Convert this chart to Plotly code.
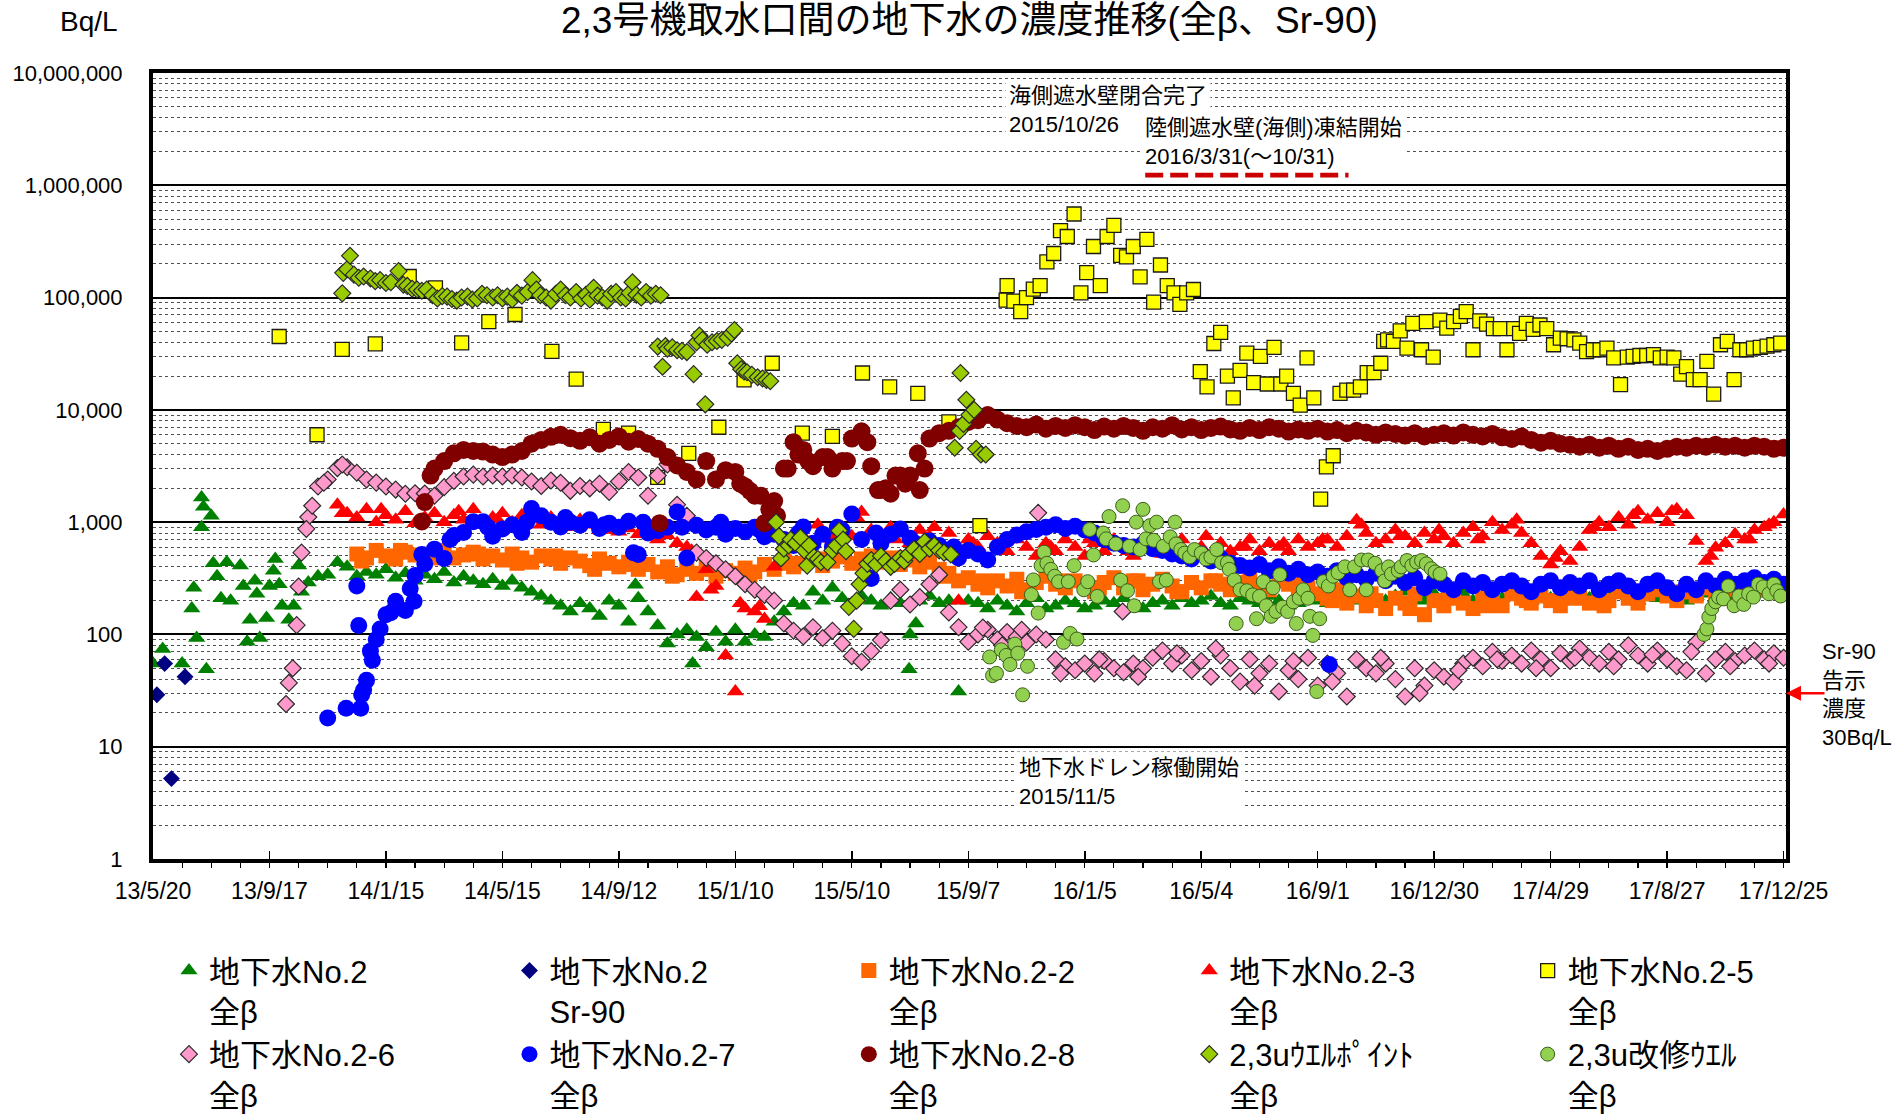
import pandas as pd
import plotly.graph_objects as go

# ---------------------------------------------------------------- texts / ticks
DAY0 = "2013-05-20"          # day 0 of all "elapsed day" arrays below
title_text = "2,3号機取水口間の地下水の濃度推移(全β、Sr-90)"
unit_text = "Bq/L"
tick_dates = ["2013-05-20", "2013-09-17", "2014-01-15", "2014-05-15", "2014-09-12",
              "2015-01-10", "2015-05-10", "2015-09-07", "2016-01-05", "2016-05-04",
              "2016-09-01", "2016-12-30", "2017-04-29", "2017-08-27", "2017-12-25"]
tick_labels = ["13/5/20", "13/9/17", "14/1/15", "14/5/15", "14/9/12", "15/1/10", "15/5/10",
               "15/9/7", "16/1/5", "16/5/4", "16/9/1", "16/12/30", "17/4/29", "17/8/27", "17/12/25"]
ytick_vals = [1, 10, 100, 1000, 10000, 100000, 1000000, 10000000]
ytick_labels = ["1", "10", "100", "1,000", "10,000", "100,000", "1,000,000", "10,000,000"]

series_names = ["地下水No.2<br>全β", "地下水No.2<br>Sr-90", "地下水No.2-2<br>全β",
                "地下水No.2-3<br>全β", "地下水No.2-5<br>全β", "地下水No.2-6<br>全β",
                "地下水No.2-7<br>全β", "地下水No.2-8<br>全β", "2,3uｳｴﾙﾎﾟｲﾝﾄ<br>全β",
                "2,3u改修ｳｴﾙ<br>全β"]

# ---------------------------------------------------------------- sampling days (elapsed days from DAY0)
sample_day = [
    0, 10, 20, 30, 40, 50, 60, 70, 80, 90, 100, 110,
    120, 130, 140, 150, 160, 170, 180, 190, 200, 210, 220, 230,
    240, 250, 260, 270, 280, 290, 300, 310, 320, 330, 340, 350,
    360, 370, 380, 390, 400, 410, 420, 430, 440, 450, 460, 470,
    480, 490, 500, 510, 520, 530, 540, 550, 560, 570, 580, 590,
    600, 610, 620, 630, 640, 650, 660, 670, 680, 690, 700, 710,
    720, 730, 740, 750, 760, 770, 780, 790, 800, 810, 820, 830,
    840, 850, 860, 870, 880, 890, 900, 910, 920, 930, 940, 950,
    960, 970, 980, 990, 1000, 1010, 1020, 1030, 1040, 1050, 1060, 1070,
    1080, 1090, 1100, 1110, 1120, 1130, 1140, 1150, 1160, 1170, 1180, 1190,
    1200, 1210, 1220, 1230, 1240, 1250, 1260, 1270, 1280, 1290, 1300, 1310,
    1320, 1330, 1340, 1350, 1360, 1370, 1380, 1390, 1400, 1410, 1420, 1430,
    1440, 1450, 1460, 1470, 1480, 1490, 1500, 1510, 1520, 1530, 1540, 1550,
    1560, 1570, 1580, 1590, 1600, 1610, 1620, 1630, 1640, 1650, 1660, 1670,
    1680]

# ---------------------------------------------------------------- 地下水No.2 全β
no2_beta = [
    55, 74, None, 55, 170, 1660, 1140, 210, 200, 410, 135, 93,
    270, 280, 135, 410, 290, 330, 340, 440, 400, 330, 360, 340,
    380, 320, 350, 300, 340, 310, 360, 290, 330, 300, 280, 310,
    270, 300, 260, 240, 220, 200, 180, 160, 190, 170, 146, 200,
    180, 130, 210, 160, 120, 83, 100, 110, 95, 77, 105, 86,
    110, 86, 100, 95, 130, 160, 190, 180, 240, 200, 260, 210,
    190, 220, 200, 180, 210, 190, 100, 200, 220, 190, 200, 31,
    200, 190, 170, 200, 180, 160, 190, 210, 170, 180, 200, 190,
    170, 180, 200, 190, 210, 180, 170, 190, 200, 180, 210, 190,
    200, 220, 190, 180, 210, 200, 190, 220, 200, 180, 190, 210,
    200, 190, 220, 210, 200, 230, 210, 200, 220, 240, 210, 200,
    230, 220, 210, 230, 200, 220, 240, 210, 230, 220, 200, 230,
    210, 220, 240, 230, 210, 220, 240, 230, 220, 200, 220, 210,
    230, 220, 200, 220, 230, 210, 240, 220, 230, 250, 230, 240,
    220]
no2_beta_xday = [42, 45, 50, 52, 55, 62, 66, 76, 93, 97, 105, 107, 117, 124, 126, 133,
                 145, 153, 497, 556, 779, 786]
no2_beta_xval = [260, 93, 900, 1370, 49, 430, 330, 440, 270, 86, 300, 230, 140, 370, 470, 180,
                 180, 240, 277, 55, 49, 125]

# ---------------------------------------------------------------- 地下水No.2 Sr-90
no2_sr_day = [4, 12, 19, 33]
no2_sr_val = [29, 55, 5.2, 42]

# ---------------------------------------------------------------- 地下水No.2-2 全β
no2_2_beta = [None] * 21 + [
    520, 480, 560,
    500, 470, 540, 510, 450, 520, 560, 480, 510, 540, 470, 500,
    460, 520, 480, 440, 500, 470, 430, 480, 450, 410, 470, 430,
    400, 440, 380, 420, 360, 400, 340, 380, 350, 400, 330, 370,
    350, 390, 360, 420, 380, 450, 400, 430, 470, 410, 450, 490,
    430, 470, 500, 440, 480, 420, 460, 400, 440, 380, 350, 300,
    320, 280, 260, 300, 270, 310, 250, 290, 330, 280, 260, 300,
    270, 240, 290, 320, 260, 300, 250, 280, 310, 270, 240, 290,
    260, 300, 280, 250, 290, 330, 270, 250, 300, 280, 240, 260,
    230, 210, 250, 190, 220, 180, 200, 170, 210, 190, 230, 150,
    200, 180, 220, 190, 170, 210, 200, 180, 230, 210, 190, 220,
    200, 180, 230, 210, 190, 220, 200, 240, 210, 190, 230, 250,
    220, 200, 240, 220, 260, 230, 250, 270, 240, 260, 250, 270,
    260]
no2_2_xday = [215, 255, 295, 335, 375, 415, 455, 495, 535, 575, 615, 655, 695, 735, 775, 815,
              855, 895, 935, 975, 1015, 1055, 1095, 1135, 1175, 1215, 1255, 1295, 1335, 1375,
              1415, 1455, 1495, 1535, 1575, 1615, 1655]
no2_2_xval = [450, 560, 480, 520, 430, 500, 380, 420, 330, 380, 340, 430, 470, 450, 480, 330,
              300, 240, 300, 260, 300, 240, 300, 260, 290, 200, 230, 170, 210, 180,
              200, 210, 180, 230, 240, 210, 280]

# ---------------------------------------------------------------- 地下水No.2-3 全β
no2_3_beta = [None] * 19 + [
    1430, 1200, 1100, 1300, 1000,
    1150, 1050, 1250, 980, 1100, 1200, 1000, 1150, 1050, 1300, 950, 1100,
    1200, 1000, 1150, 1050, 950, 1100, 1000, 900, 1050, 950, 850, 900,
    820, 880, 780, 850, 700, 760, 650, 600, 215, 380, 270, 65,
    31, 170, 160, 137, 400, 600, 700, 750, 650, 800, 700, 900,
    750, 1230, 850, 700, 900, 800, 650, 850, 750, 600, 800, 200,
    700, 600, 750, 650, 550, 700, 600, 500, 650, 550, 700, 600,
    500, 650, 550, 700, 600, 500, 580, 650, 520, 600, 700, 550,
    600, 500, 650, 550, 600, 700, 550, 650, 600, 550, 700, 600,
    650, 700, 600, 750, 1040, 800, 650, 700, 850, 750, 650, 800,
    700, 750, 650, 800, 900, 750, 1000, 850, 950, 800, 650, 500,
    420, 550, 450, 600, 850, 1000, 900, 1100, 950, 1250, 1050, 1200,
    1000, 1300, 1150, 680, 450, 590, 650, 780, 700, 850, 900, 1000,
    1170]
no2_3_xday = [195, 235, 275, 315, 355, 395, 435, 475, 515, 555, 575, 605, 625, 685, 725, 765,
              805, 845, 885, 925, 965, 1005, 1045, 1085, 1125, 1165, 1205, 1245, 1285, 1325,
              1365, 1405, 1445, 1485, 1525, 1565, 1605, 1645, 1665]
no2_3_xval = [1200, 1300, 1000, 1250, 1050, 1200, 950, 850, 800, 555, 250, 190, 178, 950, 1100, 700,
              900, 650, 750, 600, 700, 550, 650, 750, 600, 650, 700, 950, 750, 850,
              700, 1050, 480, 900, 1150, 1250, 500, 700, 950]

# ---------------------------------------------------------------- 地下水No.2-5 全β
no2_5_day = [
    130, 169, 195, 229, 264, 291, 318, 346, 373, 411,
    436, 464, 490, 520, 552, 583, 609, 638, 669, 700,
    731, 759, 788, 820, 852, 879, 880, 887, 894, 900,
    907, 914, 921, 928, 935, 942, 949, 956, 962, 969,
    976, 983, 990, 997, 1003, 1010, 1017, 1024, 1031, 1038,
    1045, 1052, 1058, 1065, 1072, 1079, 1086, 1093, 1100, 1107,
    1113, 1120, 1127, 1134, 1141, 1148, 1155, 1162, 1168, 1175,
    1182, 1189, 1196, 1203, 1209, 1216, 1223, 1230, 1237, 1244,
    1251, 1258, 1265, 1268, 1272, 1278, 1285, 1292, 1298, 1307,
    1312, 1319, 1326, 1333, 1340, 1347, 1353, 1360, 1367, 1374,
    1381, 1388, 1395, 1402, 1408, 1415, 1422, 1429, 1436, 1443,
    1450, 1457, 1464, 1470, 1477, 1484, 1491, 1498, 1505, 1512,
    1519, 1525, 1532, 1539, 1546, 1553, 1560, 1567, 1574, 1580,
    1587, 1594, 1601, 1608, 1615, 1622, 1629, 1635, 1642, 1649,
    1656, 1663, 1670, 1677]
no2_5_val = [
    45000, 6000, 34500, 38700, 154000, 122000, 39500, 61000, 70700, 33200,
    18800, 6700, 6200, 2500, 4100, 7000, 18500, 26000, 6200, 5800,
    21300, 16000, 14000, 7800, 930, 95000, 128000, 93000, 75000, 100000,
    119000, 128000, 208000, 247000, 395000, 350000, 555000, 110000, 167000, 285000,
    128000, 350000, 440000, 238000, 230000, 285000, 153000, 330000, 91000, 195000,
    128000, 110000, 87000, 110000, 118000, 21900, 16000, 39000, 49000, 20000,
    12800, 22500, 32000, 17500, 30000, 17000, 36000, 17000, 20000, 14000,
    11000, 29000, 12800, 1600, 3100, 3900, 14000, 15000, 15000, 16000,
    21500, 21500, 26000, 40800, 42000, 40800, 50500, 35500, 59000, 34300,
    61000, 29500, 63000, 53400, 61000, 68000, 75000, 34300, 62000, 58000,
    53000, 53000, 34300, 53000, 48000, 59000, 52000, 57000, 53000, 38000,
    43500, 43000, 42000, 39300, 33000, 34300, 34300, 35500, 29000, 16800,
    29500, 30000, 30500, 30500, 31000, 29000, 29500, 29000, 20800, 24300,
    18600, 18600, 27000, 13800, 38000, 40800, 18600, 34300, 34300, 35500,
    36000, 37000, 38000, 39300]

# ---------------------------------------------------------------- 地下水No.2-6 全β
no2_6_beta = [None] * 14 + [
    37, 267, 1110, 2080, 2400, 3030, 3080, 2750, 2400, 2250,
    2080, 1950, 1790, 1810, 1800, 1720, 2050, 2330, 2550, 2650, 2550, 2600,
    2550, 2600, 2500, 2300, 2100, 2350, 2240, 1900, 2100, 2000, 2200, 1860,
    2300, 2800, 2500, 1720, 2600, 3270, 1430, 1140, 535, 480, 430, 380,
    330, 280, 250, 225, 200, 125, 108, 96, 116, 93, 108, 83,
    64, 57, 71, 89, 200, 250, 185, 215, 280, 340, 157, 116,
    86, 100, 110, 90, 105, 95, 85, 100, 90, 60, 52, 48,
    55, 45, 58, 50, 46, 55, 50, 62, 72, 55, 65, 48,
    58, 42, 65, 50, 38, 60, 45, 55, 31, 48, 40, 62,
    35, 55, 45, 28, 60, 50, 45, 55, 40, 28, 50, 35,
    48, 42, 38, 55, 62, 52, 70, 58, 65, 55, 72, 60,
    50, 68, 58, 75, 62, 55, 70, 60, 80, 65, 55, 72,
    60, 52, 48, 85, 45, 60, 70, 58, 65, 72, 60, 68,
    62]
no2_6_xday = [137, 144, 148, 153, 158, 164, 176, 195, 855, 875, 895, 912, 935, 975, 999, 1015,
              1055, 1095, 1135, 1175, 1215, 1265, 1305, 1345, 1385, 1425, 1465, 1505, 1545,
              1585, 1625, 1665]
no2_6_xval = [24, 50, 121, 535, 870, 1400, 2240, 3260, 115, 80, 110, 1210, 45, 60, 160, 42,
              68, 75, 35, 58, 38, 62, 30, 48, 60, 50, 62, 52, 66,
              70, 52, 55]

# ---------------------------------------------------------------- 地下水No.2-7 全β
no2_7_beta = [None] * 18 + [
    18, None, None, 270, 39, 90,
    150, 197, 163, 335, 425, 575, 475, 760, 810, 1010, 1010, 750,
    870, 950, 810, 1320, 1140, 1000, 905, 1000, 940, 1050, 880, 980,
    900, 1020, 515, 800, 840, 900, 1230, 480, 940, 850, 900, 780,
    880, 820, 900, 740, 780, 700, 620, 905, 650, 780, 600, 850,
    1180, 700, 315, 650, 780, 870, 720, 600, 680, 620, 540, 480,
    560, 520, 460, 600, 700, 770, 820, 860, 900, 950, 880, 920,
    850, 800, 700, 650, 620, 600, 640, 580, 560, 520, 500, 470,
    520, 450, 480, 430, 410, 390, 420, 370, 400, 350, 380, 340,
    360, 330, 370, 320, 340, 310, 350, 300, 330, 290, 320, 260,
    300, 280, 250, 300, 270, 290, 250, 280, 300, 270, 240, 280,
    300, 260, 290, 270, 300, 250, 280, 300, 270, 240, 280, 300,
    260, 230, 280, 250, 300, 270, 310, 280, 300, 320, 290, 310,
    280]
no2_7_xday = [199, 212, 214, 215, 217, 224, 226, 234, 245, 265, 269, 277, 306, 345, 385, 425,
              465, 495, 505, 545, 585, 625, 665, 705, 745, 785, 825, 1212]
no2_7_xval = [22, 120, 22, 29, 32, 71, 59, 112, 156, 257, 197, 515, 700, 900, 1000, 1100,
              950, 535, 1000, 900, 1000, 850, 800, 900, 800, 650, 600, 54]

# ---------------------------------------------------------------- 地下水No.2-8 全β
no2_8_beta = [None] * 28 + [
    1510, 3000, 3500, 4100, 4400, 4300, 4250, 4000,
    3800, 4000, 4300, 5000, 5400, 5750, 6000, 5600, 5300, 5700, 5000, 5400,
    5800, 5200, 5500, 5000, 4500, 3800, 3200, 2800, 2400, 3500, 2400, 2900,
    2800, 2080, 1720, 980, 1540, 3000, 5150, 4400, 3150, 3800, 3000, 3500,
    5550, 6450, 3150, 1930, 1790, 2600, 2600, 1930, 5550, 6200, 6500, 7000,
    7800, 8100, 9000, 8200, 7600, 7200, 7000, 7400, 6800, 7200, 6900, 7300,
    7000, 6600, 7100, 6800, 7200, 6900, 6500, 7000, 6800, 7300, 6700, 7000,
    6600, 6900, 7100, 6700, 6500, 6900, 6600, 7000, 6800, 6400, 6700, 6500,
    6800, 6400, 6600, 6200, 6500, 6300, 6000, 6300, 6100, 5900, 6200, 5800,
    6000, 6200, 5900, 6300, 6000, 5800, 6100, 5700, 5500, 5800, 5400, 5100,
    5300, 5000, 4900, 4700, 4900, 4600, 4800, 4500, 4700, 4400, 4500, 4300,
    4500, 4700, 4600, 4800, 4700, 4900, 4700, 4800, 4600, 4800, 4700, 4500,
    4600]
no2_8_xday = [277, 286, 522, 605, 615, 626, 635, 643, 654, 665, 675, 695, 715, 736, 747, 755,
              765, 775, 788, 795]
no2_8_xval = [1015, 2600, 980, 2200, 1900, 1720, 1300, 1140, 3000, 4000, 3500, 3800, 3500, 5150,
              1930, 2000, 2600, 2200, 4100, 3000]

# ---------------------------------------------------------------- 2,3uウエルポイント 全β
wellpoint_day = [
    195, 196, 200, 203, 207, 212, 217, 224, 229, 234,
    240, 245, 253, 258, 262, 267, 272, 277, 282, 288,
    293, 298, 303, 308, 313, 318, 324, 329, 334, 339,
    344, 350, 355, 360, 365, 370, 375, 380, 386, 391,
    395, 399, 405, 410, 415, 420, 425, 430, 436, 441,
    446, 450, 454, 458, 463, 468, 472, 477, 482, 487,
    491, 494, 498, 503, 508, 513, 518, 520, 523, 525,
    528, 530, 535, 540, 545, 550, 557, 560, 563, 566,
    569, 571, 576, 581, 586, 592, 596, 599, 602, 606,
    609, 612, 617, 623, 628, 632, 636, 642, 645, 647,
    650, 655, 657, 662, 667, 671, 674, 676, 681, 685,
    688, 695, 700, 704, 707, 711, 714, 717, 722, 725,
    728, 732, 736, 740, 745, 750, 755, 760, 764, 770,
    774, 778, 784, 790, 795, 800, 805, 810, 815, 822,
    826, 831, 832, 835, 838, 841, 846, 848, 853, 858]
wellpoint_val = [
    109000, 166000, 179000, 236000, 160000, 150000, 154000, 148000, 140000, 143000,
    135000, 137000, 172000, 130000, 127000, 120000, 118000, 115000, 118000, 105000,
    98000, 103000, 102000, 97000, 94000, 100000, 102000, 96000, 98000, 108000,
    105000, 100000, 105000, 98000, 102000, 96000, 110000, 104000, 112000, 143000,
    118000, 105000, 100000, 94000, 108000, 118000, 105000, 100000, 112000, 98000,
    106000, 96000, 122000, 104000, 100000, 94000, 108000, 112000, 100000, 98000,
    110000, 137000, 106000, 100000, 112000, 104000, 108000, 36600, 105000, 24200,
    37000, 35000, 36000, 34000, 33500, 32700, 20800, 40000, 46000, 42000,
    11200, 38000, 40000, 41000, 42000, 44000, 48000, 51500, 26000, 23000,
    22000, 21600, 20500, 19500, 19000, 18500, 18000, 1000, 750, 476,
    580, 620, 700, 650, 730, 560, 410, 620, 490, 470,
    440, 440, 560, 620, 840, 700, 550, 176, 112, 200,
    280, 350, 425, 460, 420, 500, 450, 400, 425, 480,
    450, 515, 575, 520, 670, 580, 620, 560, 535, 515,
    4600, 6500, 21300, 7500, 12300, 9000, 10000, 4500, 4000, 4000]

# ---------------------------------------------------------------- 2,3u改修ウエル 全β
repairwell_day = [
    862, 865, 869, 874, 879, 883, 888, 891, 896, 901,
    905, 907, 912, 915, 918, 921, 925, 929, 933, 938,
    943, 945, 949, 952, 959, 963, 965, 969, 973, 979,
    982, 985, 992, 997, 999, 1004, 1006, 1011, 1013, 1017,
    1020, 1023, 1027, 1031, 1034, 1037, 1041, 1044, 1048, 1053,
    1054, 1059, 1063, 1068, 1073, 1080, 1085, 1090, 1096, 1101,
    1107, 1109, 1114, 1116, 1120, 1127, 1133, 1137, 1140, 1144,
    1147, 1152, 1154, 1157, 1161, 1164, 1169, 1175, 1178, 1181,
    1185, 1190, 1192, 1195, 1199, 1202, 1206, 1211, 1216, 1221,
    1228, 1233, 1238, 1245, 1250, 1252, 1259, 1266, 1269, 1273,
    1276, 1283, 1286, 1292, 1297, 1302, 1307, 1312, 1317, 1321,
    1326, 1598, 1601, 1603, 1606, 1610, 1613, 1618, 1623, 1629,
    1634, 1639, 1644, 1649, 1654, 1659, 1665, 1670, 1673, 1677]
repairwell_val = [
    63, 43, 45, 73, 65, 54, 82, 68, 29, 52,
    226, 306, 155, 410, 540, 430, 380, 330, 295, 85,
    295, 102, 410, 91, 250, 295, 860, 510, 218, 800,
    710, 1120, 640, 305, 1400, 245, 610, 180, 1000, 570,
    1300, 710, 930, 690, 1000, 295, 610, 305, 740, 1000,
    640, 570, 530, 490, 570, 530, 470, 490, 570, 435,
    435, 380, 305, 125, 250, 245, 225, 138, 218, 295,
    180, 145, 260, 160, 340, 175, 160, 195, 125, 210,
    250, 210, 145, 98, 31, 138, 295, 270, 330, 355,
    400, 250, 400, 460, 250, 460, 430, 370, 300, 400,
    345, 370, 400, 455, 410, 440, 455, 425, 385, 360,
    345, 100, 112, 143, 170, 195, 215, 207, 270, 180,
    220, 185, 230, 215, 280, 265, 230, 280, 245, 220]

# ---------------------------------------------------------------- helpers
BASE = pd.Timestamp(DAY0)


def to_dates(days):
    return [BASE + pd.Timedelta(days=d) for d in days]


def from_grid(vals, xday=(), xval=()):
    days = [d for d, v in zip(sample_day, vals) if v is not None]
    ys = [v for v in vals if v is not None]
    days += list(xday)
    ys += list(xval)
    return to_dates(days), ys


JP = "Liberation Sans, Noto Sans CJK JP, sans-serif"
LAT = "Liberation Sans, Arial, sans-serif"

x1, y1 = from_grid(no2_beta, no2_beta_xday, no2_beta_xval)
x2, y2 = to_dates(no2_sr_day), no2_sr_val
x3, y3 = from_grid(no2_2_beta, no2_2_xday, no2_2_xval)
x4, y4 = from_grid(no2_3_beta, no2_3_xday, no2_3_xval)
x5, y5 = to_dates(no2_5_day), no2_5_val
x6, y6 = from_grid(no2_6_beta, no2_6_xday, no2_6_xval)
x7, y7 = from_grid(no2_7_beta, no2_7_xday, no2_7_xval)
x8, y8 = from_grid(no2_8_beta, no2_8_xday, no2_8_xval)
x9, y9 = to_dates(wellpoint_day), wellpoint_val
x10, y10 = to_dates(repairwell_day), repairwell_val

# (x, y, symbol, size, fill, outline, outline width, legend)
specs = [
    (x1, y1, "triangle-up", 15, "#008000", "#008000", 0, "legend"),
    (x2, y2, "diamond", 13, "#000080", "#000080", 0, "legend2"),
    (x3, y3, "square", 15, "#FF6600", "#FF6600", 0, "legend3"),
    (x4, y4, "triangle-up", 15, "#FF0000", "#FF0000", 0, "legend4"),
    (x5, y5, "square", 14, "#FFFF00", "#1a1a1a", 1.3, "legend5"),
    (x6, y6, "diamond", 13, "#FF99CC", "#2a2a2a", 1.2, "legend"),
    (x7, y7, "circle", 17, "#0000FF", "#0000FF", 0, "legend2"),
    (x8, y8, "circle", 18, "#800000", "#800000", 0, "legend3"),
    (x9, y9, "diamond", 13, "#99CC00", "#2a2a2a", 1.2, "legend4"),
    (x10, y10, "circle", 14, "#92D050", "#3B5E1A", 1, "legend5"),
]

fig = go.Figure()
for (xx, yy, sym, sz, fc, lc, lw, leg), name in zip(specs, series_names):
    fig.add_trace(go.Scatter(
        x=xx, y=yy, mode="markers", name=name, legend=leg,
        marker=dict(symbol=sym, size=sz, color=fc, line=dict(color=lc, width=lw)),
        hoverinfo="skip"))

minor_y = [m * 10 ** e for e in range(7) for m in range(2, 10)]

leg_base = dict(orientation="v", xanchor="left", yanchor="top", valign="top",
                bgcolor="rgba(0,0,0,0)", borderwidth=0, itemsizing="trace",
                font=dict(family=JP, size=31, color="black"), y=-0.108)
leg_x = [0.0098, 0.2183, 0.4261, 0.6346, 0.8418]

fig.update_layout(
    width=1903, height=1116,
    margin=dict(l=153, r=117, t=73, b=257, autoexpand=False),
    paper_bgcolor="white", plot_bgcolor="white",
    font=dict(family=LAT, color="black"),
    showlegend=True,
    legend=dict(leg_base, x=leg_x[0]),
    legend2=dict(leg_base, x=leg_x[1]),
    legend3=dict(leg_base, x=leg_x[2]),
    legend4=dict(leg_base, x=leg_x[3]),
    legend5=dict(leg_base, x=leg_x[4]),
    xaxis=dict(
        type="date", range=["2013-05-20", "2017-12-27 12:00"],
        tickmode="array", tickvals=tick_dates, ticktext=tick_labels,
        ticks="inside", ticklen=8, tickwidth=1.5, tickcolor="black",
        tickfont=dict(family=LAT, size=23, color="black"), ticklabelstandoff=8,
        showgrid=False, zeroline=False, automargin=False,
        showline=True, linecolor="black", linewidth=4, mirror=True,
        minor=dict(tick0="2013-05-20", dtick=30 * 86400000, ticks="outside",
                   ticklen=5, tickwidth=1.2, tickcolor="black", showgrid=False),
    ),
    yaxis=dict(
        type="log", range=[0, 7],
        tickmode="array", tickvals=ytick_vals, ticktext=ytick_labels,
        ticks="", tickfont=dict(family=LAT, size=22, color="black"), ticklabelstandoff=22,
        showgrid=True, gridcolor="black", gridwidth=2, zeroline=False, automargin=False,
        showline=True, linecolor="black", linewidth=4, mirror=True,
        minor=dict(tickmode="array", tickvals=minor_y, ticks="", showgrid=True,
                   gridcolor="#505050", gridwidth=1, griddash="dot"),
    ),
)

ann_font = dict(family=JP, size=22, color="black")
fig.add_annotation(xref="paper", yref="paper", x=0.5, y=1.0672, xanchor="center",
                   yanchor="middle", text=title_text, showarrow=False,
                   font=dict(family=JP, size=37, color="black"))
fig.add_annotation(xref="paper", yref="paper", x=-0.0392, y=1.0649, xanchor="center",
                   yanchor="middle", text=unit_text, showarrow=False,
                   font=dict(family=LAT, size=28, color="black"))
fig.add_annotation(xref="paper", yref="paper", x=0.5218, y=0.9535, xanchor="left",
                   yanchor="middle", align="left", bgcolor="white", borderpad=3,
                   text="海側遮水壁閉合完了<br>2015/10/26", showarrow=False, font=ann_font)
fig.add_annotation(xref="paper", yref="paper", x=0.6052, y=0.9125, xanchor="left",
                   yanchor="middle", align="left", bgcolor="white", borderpad=3,
                   text="陸側遮水壁(海側)凍結開始<br>2016/3/31(～10/31)", showarrow=False,
                   font=ann_font)
fig.add_annotation(xref="paper", yref="paper", x=0.5279, y=0.0985, xanchor="left",
                   yanchor="middle", align="left", bgcolor="white", borderpad=3,
                   text="地下水ドレン稼働開始<br>2015/11/5", showarrow=False, font=ann_font)
fig.add_annotation(xref="paper", yref="paper", x=1.0208, y=0.2087, xanchor="left",
                   yanchor="middle", align="left",
                   text="Sr-90<br>告示<br>濃度<br>30Bq/L", showarrow=False,
                   font=dict(family=JP, size=22, color="black"))
fig.add_annotation(xref="paper", yref="y", x=1.0, y=1.4771, text="", showarrow=True,
                   ax=40, ay=0, arrowhead=2, arrowsize=1.2, arrowwidth=2.5,
                   arrowcolor="#FF0000", standoff=0)
fig.add_shape(type="line", xref="paper", yref="paper", x0=0.6076, x1=0.7321,
              y0=0.8702, y1=0.8702,
              line=dict(color="#CC0000", width=5, dash="18px,7px"))

fig.write_html("out.html", include_plotlyjs=True, full_html=True,
               config={"displayModeBar": False, "staticPlot": True},
               post_script="document.body.style.margin='0px';document.body.style.overflow='hidden';")
